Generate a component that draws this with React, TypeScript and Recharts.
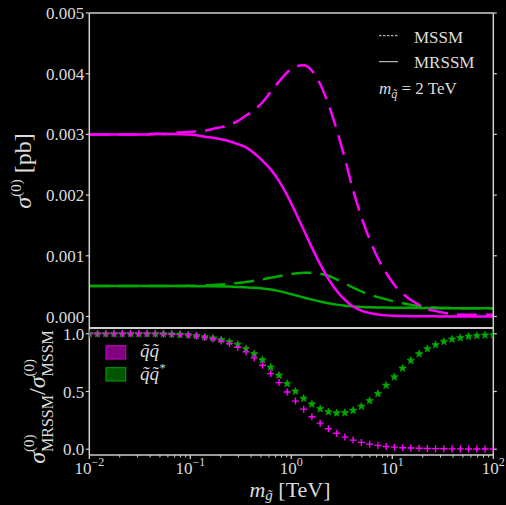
import React from "react";
import { ComposedChart, Line, Scatter, XAxis, YAxis, ReferenceLine, Legend } from "recharts";

// gluino mass grid [TeV], 50 points spaced evenly in log
const mGluino = [
  0.01, 0.012068, 0.014563, 0.017575, 0.02121, 0.025595, 0.030888, 0.037276, 0.044984, 0.054287,
  0.065513, 0.07906, 0.09541, 0.11514, 0.13895, 0.16768, 0.20236, 0.24421, 0.29471, 0.35565,
  0.42919, 0.51795, 0.62506, 0.75431, 0.9103, 1.0985, 1.3257, 1.5999, 1.9307, 2.33,
  2.8118, 3.3932, 4.0949, 4.9417, 5.9636, 7.1969, 8.6851, 10.481, 12.649, 15.264,
  18.421, 22.23, 26.827, 32.375, 39.069, 47.149, 56.899, 68.665, 82.864, 100,
];

// sigma^(0) [pb], squark-squark
const mssmQQ = [
  0.003, 0.003, 0.003, 0.003, 0.003, 0.003, 0.003, 0.003, 0.00301, 0.00301,
  0.00302, 0.00303, 0.00304, 0.00305, 0.00306, 0.00309, 0.00312, 0.00316, 0.00322, 0.00331,
  0.0034, 0.00353, 0.0037, 0.00387, 0.00402, 0.00412, 0.00414, 0.00405, 0.00383, 0.0035,
  0.00308, 0.0026, 0.00208, 0.00164, 0.00127, 0.00096, 0.00072, 0.00052, 0.00038, 0.00027,
  0.00019, 0.00012, 0.00009, 0.00006, 0.00004, 0.00003, 0.00003, 0.00003, 0.00003, 0.00003,
];
const mrssmQQ = [
  0.003, 0.003, 0.003, 0.003, 0.003, 0.003, 0.003, 0.003, 0.003006, 0.003004,
  0.003005, 0.003003, 0.002998, 0.002985, 0.002962, 0.002945, 0.00292, 0.002886, 0.00284, 0.002785,
  0.00269, 0.002566, 0.002424, 0.002233, 0.001994, 0.001718, 0.001428, 0.001134, 0.000862, 0.00062,
  0.000425, 0.000273, 0.000164, 0.000097, 0.000056, 0.000032, 0.000018, 0.00001, 0.000006, 0.000004,
  0.000003, 0.000002, 0.000002, 0.000001, 0.000001, 0.000001, 0.000001, 0.000001, 0.000001, 0.000001,
];

// sigma^(0) [pb], squark-antisquark
const mssmQQbar = [
  0.0005, 0.0005, 0.0005, 0.0005, 0.0005, 0.0005, 0.0005, 0.0005, 0.0005, 0.000501,
  0.000502, 0.000503, 0.000505, 0.000508, 0.000512, 0.000518, 0.000527, 0.000538, 0.000552, 0.000568,
  0.000588, 0.000612, 0.000638, 0.000664, 0.000688, 0.000707, 0.00072, 0.00072, 0.000704, 0.00067,
  0.000612, 0.000545, 0.000475, 0.000412, 0.00036, 0.000318, 0.000282, 0.000248, 0.000218, 0.000193,
  0.000173, 0.000158, 0.000148, 0.000142, 0.000139, 0.000137, 0.000136, 0.000135, 0.000135, 0.000135,
];
const mrssmQQbar = [
  0.0005, 0.0005, 0.0005, 0.0005, 0.0005, 0.0005, 0.0005, 0.0005, 0.0005, 0.0005,
  0.0005, 0.0005, 0.0005, 0.000499, 0.000498, 0.000497, 0.000495, 0.000492, 0.000487, 0.00048,
  0.000472, 0.00046, 0.000443, 0.000418, 0.000385, 0.00035, 0.000313, 0.000278, 0.000246, 0.000218,
  0.000195, 0.000178, 0.000166, 0.000157, 0.000151, 0.000148, 0.000146, 0.000145, 0.000144, 0.000142,
  0.00014, 0.000138, 0.000137, 0.000136, 0.000135, 0.000134, 0.000134, 0.000134, 0.000134, 0.000134,
];

// sigma_MRSSM / sigma_MSSM
const ratioQQ = [
  1, 1, 1, 1, 1, 1, 1, 1, 0.999, 0.998,
  0.996, 0.993, 0.988, 0.98, 0.968, 0.955, 0.938, 0.915, 0.883, 0.843,
  0.791, 0.727, 0.655, 0.577, 0.496, 0.417, 0.347, 0.281, 0.226, 0.177,
  0.138, 0.105, 0.079, 0.059, 0.044, 0.033, 0.024, 0.018, 0.013, 0.01,
  0.008, 0.006, 0.005, 0.004, 0.003, 0.003, 0.002, 0.002, 0.002, 0.002,
];
const ratioQQbar = [
  1, 1, 1, 1, 1, 1, 1, 1, 1, 0.999,
  0.997, 0.994, 0.99, 0.983, 0.973, 0.962, 0.948, 0.93, 0.907, 0.87,
  0.826, 0.774, 0.71, 0.64, 0.568, 0.501, 0.44, 0.391, 0.35, 0.324,
  0.313, 0.316, 0.336, 0.371, 0.42, 0.481, 0.553, 0.626, 0.701, 0.768,
  0.826, 0.87, 0.904, 0.933, 0.953, 0.965, 0.977, 0.983, 0.988, 0.991,
];

const sigmaTicks = [0, 0.001, 0.002, 0.003, 0.004, 0.005];
const ratioTicks = [0, 0.5, 1];
const decadeTicks = [0.01, 0.1, 1, 10, 100];
const minorTicks = decadeTicks
  .slice(0, -1)
  .flatMap((d) => [2, 3, 4, 5, 6, 7, 8, 9].map((k) => +(d * k).toPrecision(2)));

const W = 506;
const H = 505;
const MAGENTA = "#ff00ff";
const GREEN = "#00aa00";
const FG = "#dcdcdc";
const SPINE = "#cfcfcf";
const FONT = "'Liberation Serif', 'DejaVu Serif', serif";

const rows = mGluino.map((m, i) => ({
  m,
  mssmQQ: mssmQQ[i],
  mrssmQQ: mrssmQQ[i],
  mssmQQbar: mssmQQbar[i],
  mrssmQQbar: mrssmQQbar[i],
  ratioQQ: ratioQQ[i],
  ratioQQbar: ratioQQbar[i],
}));

const tickStyle = { fill: FG, fontSize: 17, fontFamily: FONT };
const noTick = () => <g />;

const LogTick = ({ x, y, payload }: any) => {
  const v = payload.value;
  if (!decadeTicks.includes(v)) {
    return <line x1={x} x2={x} y1={y} y2={y + 2.5} stroke={SPINE} strokeWidth={1} />;
  }
  const exp = Math.round(Math.log10(v));
  return (
    <g>
      <line x1={x} x2={x} y1={y} y2={y + 4} stroke={SPINE} strokeWidth={1.3} />
      <text x={x} y={y + 18.5} textAnchor="middle" fill={FG} fontSize={17} fontFamily={FONT}>
        10
        <tspan dy={-8} fontSize={12}>{exp < 0 ? `\u2212${-exp}` : `${exp}`}</tspan>
      </text>
    </g>
  );
};

const PlusMark = ({ cx, cy }: any) => (
  <path
    d={`M${cx - 3.5},${cy}H${cx + 3.5}M${cx},${cy - 3.5}V${cy + 3.5}`}
    stroke={MAGENTA}
    strokeWidth={1.4}
    fill="none"
  />
);

const StarMark = ({ cx, cy }: any) => {
  const pts: string[] = [];
  for (let k = 0; k < 10; k++) {
    const r = k % 2 === 0 ? 4 : 1.7;
    const a = -Math.PI / 2 + (k * Math.PI) / 5;
    pts.push(`${cx + r * Math.cos(a)},${cy + r * Math.sin(a)}`);
  }
  return <polygon points={pts.join(" ")} fill={GREEN} stroke={GREEN} strokeWidth={0.6} />;
};

const TopYLabel = () => (
  <text transform="translate(31,171) rotate(-90)" textAnchor="middle" fill={FG} fontSize={24} fontFamily={FONT}>
    <tspan fontStyle="italic">σ</tspan>
    <tspan fontSize={15} dy={-10}>(0)</tspan>
    <tspan dy={10}> [pb]</tspan>
  </text>
);

const BottomYLabel = () => (
  <text transform="translate(45,397) rotate(-90)" textAnchor="middle" fill={FG} fontSize={24} fontFamily={FONT}>
    <tspan fontStyle="italic">σ</tspan>
    <tspan fontSize={15} dy={-11}>(0)</tspan>
    <tspan fontSize={16} dx={-17.5} dy={19}>MRSSM</tspan>
    <tspan dy={-8}>/</tspan>
    <tspan fontStyle="italic">σ</tspan>
    <tspan fontSize={15} dy={-11}>(0)</tspan>
    <tspan fontSize={16} dx={-17.5} dy={19}>MSSM</tspan>
  </text>
);

const XLabel = () => (
  <text x={290} y={497} textAnchor="middle" fill={FG} fontSize={22} fontFamily={FONT}>
    <tspan fontStyle="italic">m</tspan>
    <tspan fontStyle="italic" fontSize={15} dy={3}>g̃</tspan>
    <tspan dy={-3}> [TeV]</tspan>
  </text>
);

const TopLegend = () => (
  <svg width={130} height={84} style={{ display: "block" }}>
    <line x1={9} x2={28} y1={15.7} y2={15.7} stroke={FG} strokeWidth={1} strokeDasharray="2.5 1.5" />
    <text x={44} y={23.3} fill={FG} fontSize={17} fontFamily={FONT}>MSSM</text>
    <line x1={9} x2={28} y1={41.7} y2={41.7} stroke={FG} strokeWidth={1} />
    <text x={44} y={48.3} fill={FG} fontSize={17} fontFamily={FONT}>MRSSM</text>
    <text x={9} y={74} fill={FG} fontSize={17} fontFamily={FONT}>
      <tspan fontStyle="italic">m</tspan>
      <tspan fontStyle="italic" fontSize={12} dy={4}>q̃</tspan>
      <tspan dy={-4}> = 2 TeV</tspan>
    </text>
  </svg>
);

const BottomLegend = () => (
  <svg width={120} height={50} style={{ display: "block" }}>
    <rect x={11} y={5.7} width={19.7} height={13.3} fill="#800080" stroke="#d000d0" strokeWidth={1} />
    <rect x={11} y={27.7} width={19.7} height={13.3} fill="#005500" stroke="#00aa00" strokeWidth={1} />
    <text x={45} y={17} fill={FG} fontSize={19} fontFamily={FONT} fontStyle="italic">q̃q̃</text>
    <text x={45} y={40} fill={FG} fontSize={19} fontFamily={FONT} fontStyle="italic">
      q̃q̃<tspan fontSize={12} dy={-8}>*</tspan>
    </text>
  </svg>
);

const layer: React.CSSProperties = { position: "absolute", left: 0, top: 0 };

export default function App() {
  return (
    <div style={{ position: "absolute", left: 0, top: 0, width: W, height: H, background: "#000" }}>
      <div style={layer}>
        <ComposedChart width={W} height={H} data={rows} margin={{ top: 13, right: 11.7, bottom: 176, left: 88.3 }}>
          <XAxis
            dataKey="m"
            type="number"
            scale="log"
            domain={[0.01, 100]}
            allowDataOverflow
            height={1}
            tick={false}
            tickLine={false}
            axisLine={{ stroke: SPINE, strokeWidth: 2 }}
          />
          <YAxis
            type="number"
            domain={[-0.00019, 0.005]}
            allowDataOverflow
            ticks={sigmaTicks}
            interval={0}
            width={1}
            tickSize={3.5}
            tickMargin={1.5}
            tickFormatter={(v: number) => v.toFixed(3)}
            tick={tickStyle}
            tickLine={{ stroke: SPINE, strokeWidth: 1.2 }}
            axisLine={{ stroke: SPINE, strokeWidth: 1.5 }}
            label={{ content: TopYLabel }}
          />
          <YAxis
            yAxisId="r"
            orientation="right"
            type="number"
            domain={[-0.00019, 0.005]}
            allowDataOverflow
            ticks={sigmaTicks}
            interval={0}
            width={1}
            tickSize={3.5}
            tick={noTick}
            tickLine={{ stroke: SPINE, strokeWidth: 1.2 }}
            axisLine={{ stroke: SPINE, strokeWidth: 1.5 }}
          />
          <ReferenceLine y={0.005} stroke={SPINE} strokeWidth={1.5} />
          <Line dataKey="mssmQQbar" type="monotone" stroke={GREEN} strokeWidth={2.5} strokeDasharray="20 9" dot={false} activeDot={false} isAnimationActive={false} />
          <Line dataKey="mrssmQQbar" type="monotone" stroke={GREEN} strokeWidth={2.5} dot={false} activeDot={false} isAnimationActive={false} />
          <Line dataKey="mssmQQ" type="monotone" stroke={MAGENTA} strokeWidth={2.5} strokeDasharray="20 9" dot={false} activeDot={false} isAnimationActive={false} />
          <Line dataKey="mrssmQQ" type="monotone" stroke={MAGENTA} strokeWidth={2.5} dot={false} activeDot={false} isAnimationActive={false} />
          <Legend
            layout="vertical"
            align="center"
            verticalAlign="middle"
            wrapperStyle={{ left: 370, top: 20, width: 130, height: 84 }}
            content={<TopLegend />}
          />
        </ComposedChart>
      </div>
      <div style={layer}>
        <ComposedChart width={W} height={H} data={rows} margin={{ top: 328, right: 11.7, bottom: 49, left: 88.3 }}>
          <XAxis
            dataKey="m"
            type="number"
            scale="log"
            domain={[0.01, 100]}
            allowDataOverflow
            height={1}
            ticks={[...decadeTicks, ...minorTicks]}
            interval={0}
            tickSize={0}
            tickMargin={0}
            tickLine={false}
            tick={<LogTick />}
            axisLine={{ stroke: SPINE, strokeWidth: 1.5 }}
            label={{ content: XLabel }}
          />
          <YAxis
            type="number"
            domain={[-0.05, 1.05]}
            allowDataOverflow
            ticks={ratioTicks}
            interval={0}
            width={1}
            tickSize={3.5}
            tickMargin={1.5}
            tickFormatter={(v: number) => v.toFixed(1)}
            tick={tickStyle}
            tickLine={{ stroke: SPINE, strokeWidth: 1.2 }}
            axisLine={{ stroke: SPINE, strokeWidth: 1.5 }}
            label={{ content: BottomYLabel }}
          />
          <YAxis
            yAxisId="r"
            orientation="right"
            type="number"
            domain={[-0.05, 1.05]}
            allowDataOverflow
            ticks={ratioTicks}
            interval={0}
            width={1}
            tickSize={3.5}
            tick={noTick}
            tickLine={{ stroke: SPINE, strokeWidth: 1.2 }}
            axisLine={{ stroke: SPINE, strokeWidth: 1.5 }}
          />
          <Scatter dataKey="ratioQQbar" shape={<StarMark />} isAnimationActive={false} />
          <Scatter dataKey="ratioQQ" shape={<PlusMark />} isAnimationActive={false} />
          <Legend
            layout="vertical"
            align="center"
            verticalAlign="middle"
            wrapperStyle={{ left: 95, top: 340, width: 120, height: 50 }}
            content={<BottomLegend />}
          />
        </ComposedChart>
      </div>
    </div>
  );
}
